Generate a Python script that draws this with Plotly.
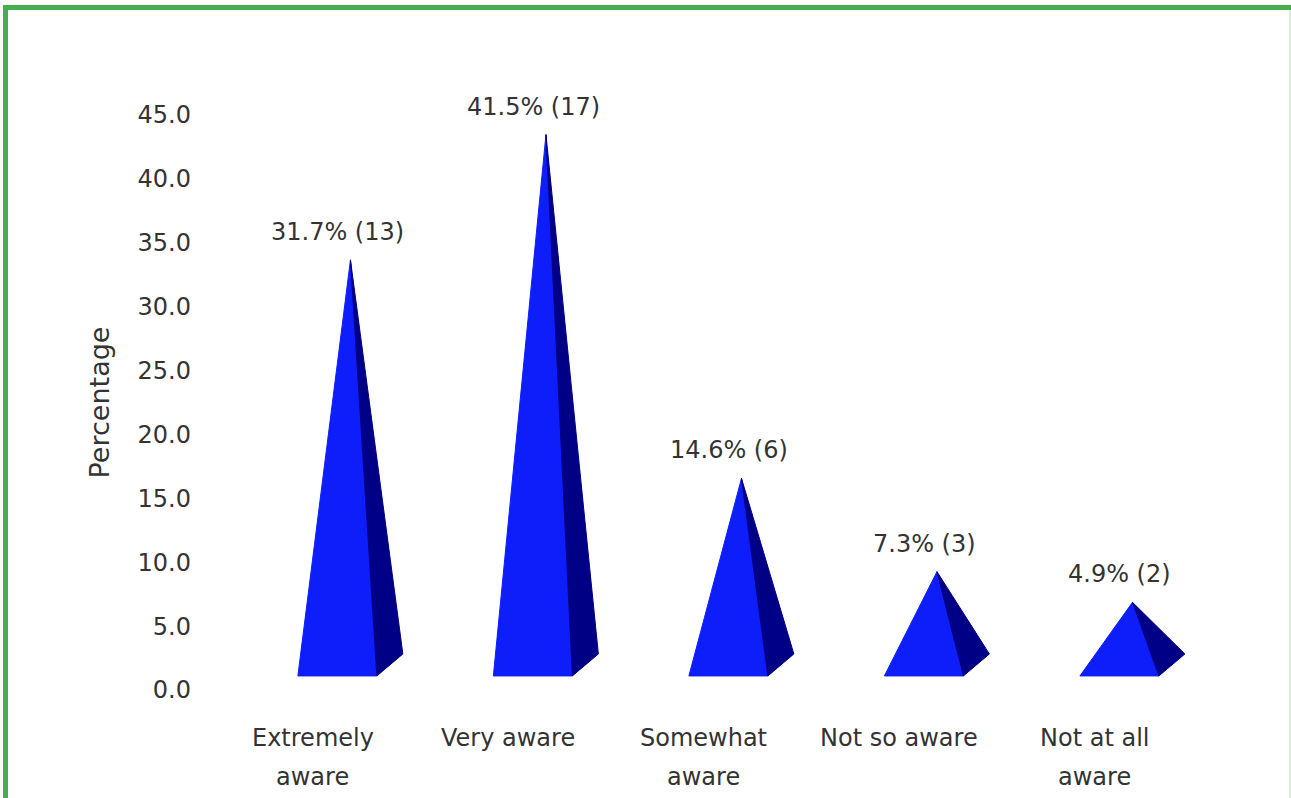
import plotly.graph_objects as go

# Survey results: awareness level
categories = ["Extremely<br>aware", "Very aware", "Somewhat<br>aware", "Not so aware", "Not at all<br>aware"]
percentages = [31.7, 41.5, 14.6, 7.3, 4.9]
counts = [13, 17, 6, 3, 2]
y_ticks = [0, 5, 10, 15, 20, 25, 30, 35, 40, 45]

# Canvas and plot-area geometry (pixels)
W, H = 1291, 798
L, R, T, B = 196, 41, 115, 108
X_RANGE = [-0.598, 4.793]
Y_RANGE = [0, 45]

# Pyramid footprint relative to each category slot (x in category units, y in value units)
FRONT_LEFT, FRONT_RIGHT, BACK_RIGHT = -0.077, 0.327, 0.460
FRONT_Y, BACK_Y = 1.10, 2.82
APEX_DX = 0.192
APEX_LIFT = 1.96
LABEL_DX = 0.128

FRONT_COLOR = "#0E1EFA"
SIDE_COLOR = "#000086"
TEXT_COLOR = "#333333"
BORDER_COLOR = "#47AE4B"
FONT = "DejaVu Sans"

# category label rows (pixel centres of first and second line)
LABEL_ROWS = [738, 777]


def px_x(p):
    return (p - L) / (W - L - R)


def px_y(p):
    return 1 - (p - T) / (H - T - B)


fig = go.Figure()

for i, (v, n) in enumerate(zip(percentages, counts)):
    ax, ay = i + APEX_DX, v + APEX_LIFT
    # lit front face
    fig.add_trace(go.Scatter(
        x=[i + FRONT_LEFT, i + FRONT_RIGHT, ax, i + FRONT_LEFT],
        y=[FRONT_Y, FRONT_Y, ay, FRONT_Y],
        fill="toself", fillcolor=FRONT_COLOR, mode="lines",
        line=dict(color=FRONT_COLOR, width=1), hoverinfo="skip", showlegend=False,
    ))
    # shaded right face
    fig.add_trace(go.Scatter(
        x=[i + FRONT_RIGHT, i + BACK_RIGHT, ax, i + FRONT_RIGHT],
        y=[FRONT_Y, BACK_Y, ay, FRONT_Y],
        fill="toself", fillcolor=SIDE_COLOR, mode="lines",
        line=dict(color=SIDE_COLOR, width=1), hoverinfo="skip", showlegend=False,
    ))
    fig.add_annotation(
        x=i + LABEL_DX, y=ay, text=f"{v:.1f}% ({n})", showarrow=False,
        xanchor="center", yanchor="middle", yshift=28,
        font=dict(family=FONT, size=24, color=TEXT_COLOR),
    )

# category names under each slot, one annotation per line
for i, name in enumerate(categories):
    for row, part in zip(LABEL_ROWS, name.split("<br>")):
        fig.add_annotation(
            x=i, xref="x", y=px_y(row), yref="paper", text=part, showarrow=False,
            xanchor="center", yanchor="middle",
            font=dict(family=FONT, size=24, color=TEXT_COLOR),
        )

# green frame: left and top edges, thin right edge
fig.add_shape(type="line", xref="paper", yref="paper",
              x0=px_x(5.5), x1=px_x(5.5), y0=px_y(5), y1=px_y(H + 5),
              line=dict(color=BORDER_COLOR, width=5))
fig.add_shape(type="line", xref="paper", yref="paper",
              x0=px_x(3), x1=px_x(W + 5), y0=px_y(7.5), y1=px_y(7.5),
              line=dict(color=BORDER_COLOR, width=5))
fig.add_shape(type="line", xref="paper", yref="paper",
              x0=px_x(1290), x1=px_x(1290), y0=px_y(10), y1=px_y(H + 5),
              line=dict(color="#cfe8d0", width=1.5))

fig.update_layout(
    width=W, height=H,
    margin=dict(l=L, r=R, t=T, b=B, autoexpand=False),
    paper_bgcolor="white", plot_bgcolor="white",
    font=dict(family=FONT, color=TEXT_COLOR),
    xaxis=dict(
        range=X_RANGE, showticklabels=False, showgrid=False, zeroline=False,
        showline=False, ticks="", fixedrange=True,
    ),
    yaxis=dict(
        range=Y_RANGE, tickmode="array", tickvals=y_ticks, tickformat=".1f",
        showgrid=False, zeroline=False, showline=False, ticks="",
        tickfont=dict(family=FONT, size=24, color=TEXT_COLOR),
        ticklabelstandoff=4,
        title=dict(text="Percentage", font=dict(family=FONT, size=27, color=TEXT_COLOR), standoff=20),
        fixedrange=True,
    ),
)

fig.write_html("out.html")
